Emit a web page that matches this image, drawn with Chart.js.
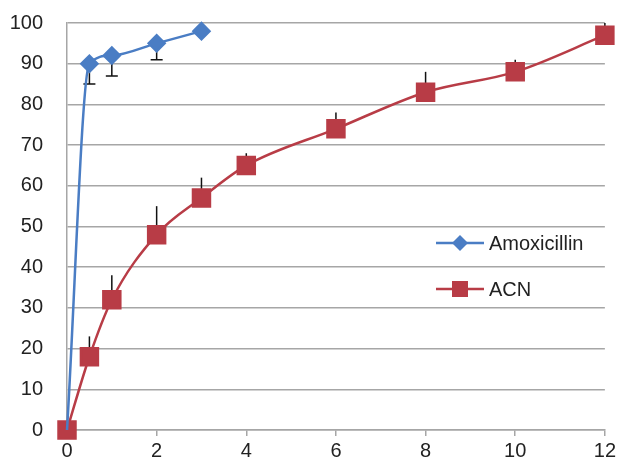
<!DOCTYPE html>
<html>
<head>
<meta charset="utf-8">
<script src="https://cdn.jsdelivr.net/npm/chart.js@4/dist/chart.umd.min.js"></script>
<style>
  html, body { margin: 0; padding: 0; background: #fff; }
  #wrap { width: 619px; height: 460px; }
</style>
</head>
<body>
<div id="wrap"><canvas id="releaseChart"></canvas></div>
<script>
// time (x) and release (%) values
var amoxTime = [0, 0.5, 1, 2, 3];
var amoxValues = [0, 90, 92, 95, 98];
var amoxErrLow = [null, 85, 87, 91, null];   // error bars go down

var acnTime = [0, 0.5, 1, 2, 3, 4, 6, 8, 10, 12];
var acnValues = [0, 18, 32, 48, 57, 65, 74, 83, 88, 97];
var acnErrHigh = [null, 23, 38, 55, 62, 68, 78, 88, 91, 100]; // error bars go up

var xTicks = [0, 2, 4, 6, 8, 10, 12];

var blue = '#4a7dc4';
var red = '#b83c46';
var tickFont = { family: '"Liberation Sans", Arial, sans-serif', size: 20 };

function toPoints(xs, ys) {
  return xs.map(function (x, i) { return { x: x, y: ys[i] }; });
}

// error bars, drawn through the chart scales, under the markers
var errorBars = {
  id: 'errorBars',
  beforeDatasetsDraw: function (chart) {
    var ctx = chart.ctx;
    var xs = chart.scales.x, ys = chart.scales.y;
    ctx.save();
    ctx.strokeStyle = '#111';
    ctx.lineWidth = 1.5;
    amoxTime.forEach(function (t, i) {
      if (amoxErrLow[i] == null) return;
      var px = xs.getPixelForValue(t);
      var y0 = ys.getPixelForValue(amoxValues[i]);
      var y1 = ys.getPixelForValue(amoxErrLow[i]);
      ctx.beginPath();
      ctx.moveTo(px, y0); ctx.lineTo(px, y1);
      ctx.moveTo(px - 6, y1); ctx.lineTo(px + 6, y1);
      ctx.stroke();
    });
    acnTime.forEach(function (t, i) {
      if (acnErrHigh[i] == null) return;
      var px = xs.getPixelForValue(t);
      var y0 = ys.getPixelForValue(acnValues[i]);
      var y1 = ys.getPixelForValue(acnErrHigh[i]);
      ctx.beginPath();
      ctx.moveTo(px, y0); ctx.lineTo(px, y1);
      ctx.stroke();
    });
    ctx.restore();
  },
  afterDraw: function (chart) {
    // legend inside the plot, Excel style (line + marker)
    var ctx = chart.ctx;
    var items = [
      { label: 'Amoxicillin', color: blue, shape: 'diamond', y: 243 },
      { label: 'ACN', color: red, shape: 'square', y: 289 }
    ];
    ctx.save();
    items.forEach(function (it) {
      ctx.strokeStyle = it.color;
      ctx.lineWidth = 2.5;
      ctx.beginPath();
      ctx.moveTo(436, it.y); ctx.lineTo(484, it.y);
      ctx.stroke();
      ctx.fillStyle = it.color;
      if (it.shape == 'diamond') {
        ctx.beginPath();
        ctx.moveTo(460, it.y - 8); ctx.lineTo(468, it.y);
        ctx.lineTo(460, it.y + 8); ctx.lineTo(452, it.y);
        ctx.closePath(); ctx.fill();
      } else {
        ctx.fillRect(452, it.y - 8, 16, 16);
      }
      ctx.fillStyle = '#222';
      ctx.font = '20px "Liberation Sans", Arial, sans-serif';
      ctx.textBaseline = 'middle';
      ctx.fillText(it.label, 489, it.y + 1);
    });
    ctx.restore();
  }
};

var config = {
  type: 'scatter',
  data: {
    datasets: [{
      label: 'Amoxicillin',
      data: toPoints(amoxTime, amoxValues),
      showLine: true,
      clip: false,
      borderColor: blue,
      backgroundColor: blue,
      borderWidth: 2.5,
      pointStyle: 'rectRot',
      // origin marker sits under the ACN square in the original
      pointRadius: function (c) { return c.dataIndex == 0 ? 0 : 8; },
      pointHoverRadius: 8,
      cubicInterpolationMode: 'monotone'
    }, {
      label: 'ACN',
      data: toPoints(acnTime, acnValues),
      showLine: true,
      clip: false,
      borderColor: red,
      backgroundColor: red,
      borderWidth: 2.5,
      pointStyle: 'rect',
      pointRadius: 12,
      pointHoverRadius: 12,
      cubicInterpolationMode: 'monotone'
    }]
  },
  options: {
    responsive: true,
    maintainAspectRatio: false,
    animation: false,
    layout: { autoPadding: false, padding: { top: 23, right: 13, left: 0, bottom: 0 } },
    plugins: {
      legend: { display: false },
      tooltip: { enabled: false }
    },
    scales: {
      x: {
        type: 'linear',
        min: 0, max: 12,
        afterBuildTicks: function (scale) {
          scale.ticks = xTicks.map(function (v) { return { value: v }; });
        },
        afterFit: function (scale) { scale.height = 30; },
        grid: { drawOnChartArea: false, drawTicks: true, tickLength: 6, color: '#a6a6a6', lineWidth: 1.5 },
        border: { display: true, color: '#a6a6a6', width: 1.5 },
        ticks: { color: '#222', padding: 3, font: tickFont }
      },
      y: {
        min: 0, max: 100,
        afterFit: function (scale) { scale.width = 67; },
        // tick marks kept invisible; their length sets the label gap
        grid: { color: '#a6a6a6', lineWidth: 1.5, drawTicks: true, tickLength: 24, tickColor: 'rgba(0,0,0,0)' },
        border: { display: true, color: '#a6a6a6', width: 1.5 },
        ticks: { stepSize: 10, color: '#222', padding: 0, font: tickFont }
      }
    }
  },
  plugins: [errorBars]
};

var releaseChart = new Chart(document.getElementById('releaseChart'), config);
</script>
</body>
</html>
